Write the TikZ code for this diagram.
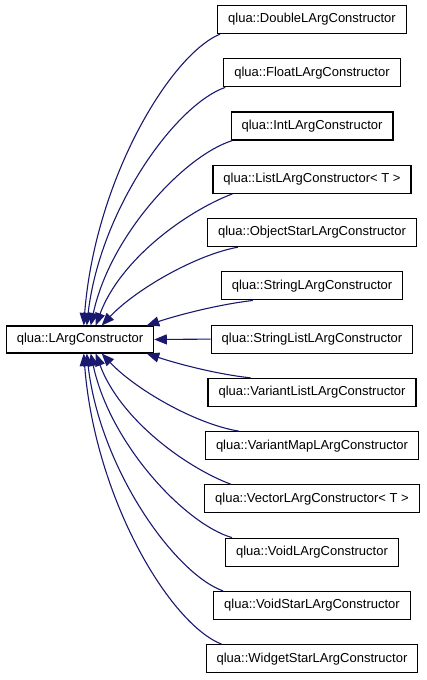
\documentclass[tikz,border=0pt]{standalone}
\usepackage{fontspec}
\setmainfont{Liberation Sans}
\usetikzlibrary{arrows.meta,calc}
\definecolor{edgeblue}{RGB}{25,25,112}
\tikzset{
  cls/.style={draw=black, line width=1.1pt, fill=white, minimum height=28pt, inner xsep=10.5pt, inner ysep=0pt,
    font=\fontsize{13}{15}\selectfont, anchor=center},
  inh/.style={draw=edgeblue, line width=1.1pt, -{Triangle[length=12.5pt,width=10pt]}, fill=none},
}
\begin{document}
\begin{tikzpicture}[x=1pt,y=-1pt]
\useasboundingbox (0,0) rectangle (427,680);
\fill[white] (0,0) rectangle (427,680);
\node[cls, minimum height=27pt] (m) at (80,339.5) {qlua::LArgConstructor};
\node[cls] (n0) at (312,19.5) {qlua::DoubleLArgConstructor};
\node[cls] (n1) at (312,72.8) {qlua::FloatLArgConstructor};
\node[cls] (n2) at (312,126.0) {qlua::IntLArgConstructor};
\node[cls] (n3) at (312,179.3) {qlua::ListLArgConstructor< T >};
\node[cls] (n4) at (312,232.6) {qlua::ObjectStarLArgConstructor};
\node[cls] (n5) at (312,285.9) {qlua::StringLArgConstructor};
\node[cls] (n6) at (312,339.1) {qlua::StringListLArgConstructor};
\node[cls] (n7) at (312,392.4) {qlua::VariantListLArgConstructor};
\node[cls] (n8) at (312,445.7) {qlua::VariantMapLArgConstructor};
\node[cls] (n9) at (312,498.9) {qlua::VectorLArgConstructor< T >};
\node[cls] (n10) at (312,552.2) {qlua::VoidLArgConstructor};
\node[cls] (n11) at (312,605.5) {qlua::VoidStarLArgConstructor};
\node[cls] (n12) at (312,658.7) {qlua::WidgetStarLArgConstructor};
% upper edges
\draw[inh] ($(n0.south west)+(3,0)$) .. controls (170,55) and (95,180) .. ($(m.north west)+(78,0)$);
\draw[inh] ($(n1.south west)+(2,0)$) .. controls (175,105) and (100,210) .. ($(m.north west)+(81,0)$);
\draw[inh] ($(n2.south west)+(2,0)$) .. controls (185,155) and (110,235) .. ($(m.north west)+(85,0)$);
\draw[inh] ($(n3.south west)+(20,0)$) .. controls (185,212) and (120,260) .. ($(m.north west)+(90,0)$);
\draw[inh] ($(n4.south west)+(31,0)$) .. controls (195,255) and (135,290) .. ($(m.north west)+(96,0)$);
\draw[inh] ($(n5.south west)+(32,0)$) .. controls (215,305) and (175,316) .. ($(m.north west)+(141,0)$);
\draw[inh] (n6.west) -- (m.east);
% lower edges
\draw[inh] ($(n7.north west)+(43,0)$) .. controls (215,374) and (175,363) .. ($(m.south west)+(141,0)$);
\draw[inh] ($(n8.north west)+(34,0)$) .. controls (195,424) and (135,389) .. ($(m.south west)+(96,0)$);
\draw[inh] ($(n9.north west)+(27,0)$) .. controls (185,467) and (120,419) .. ($(m.south west)+(90,0)$);
\draw[inh] ($(n10.north west)+(7,0)$) .. controls (185,524) and (110,444) .. ($(m.south west)+(85,0)$);
\draw[inh] ($(n11.north west)+(10,0)$) .. controls (175,574) and (100,469) .. ($(m.south west)+(81,0)$);
\draw[inh] ($(n12.north west)+(16,0)$) .. controls (170,624) and (95,499) .. ($(m.south west)+(78,0)$);
\end{tikzpicture}
\end{document}
